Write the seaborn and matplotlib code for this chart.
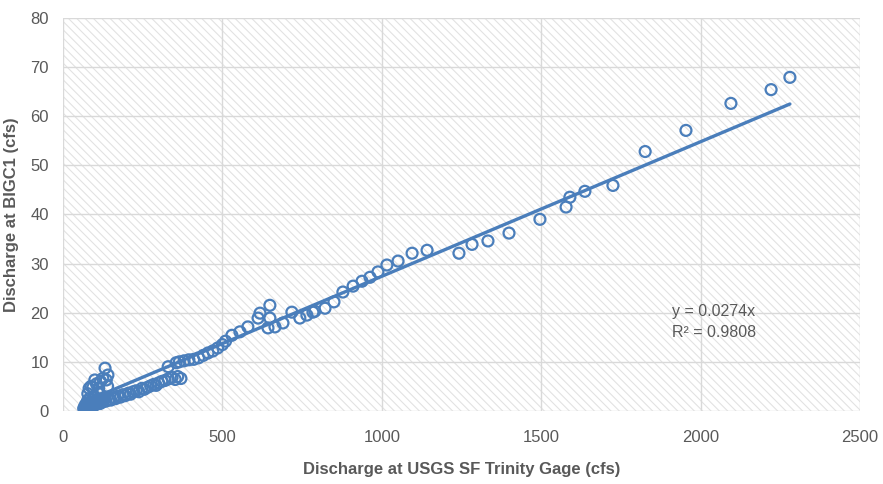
import numpy as np
import pandas as pd
import matplotlib
matplotlib.use("Agg")
import matplotlib.pyplot as plt
from matplotlib.patches import Rectangle
import seaborn as sns

# flow at the USGS gage (cfs) and matching discharge at BIGC1 (cfs)
usgs_cfs = [
    65, 68, 70, 72, 74, 75, 77, 78, 80, 82, 83, 85, 87, 88, 90, 92, 94, 96, 98, 100,
    103, 105, 108, 110, 113, 116, 120, 124, 128,
    78, 82, 88, 94, 100, 105, 112, 118, 125, 132, 136, 141, 140, 110,
    135, 145, 150, 158, 165, 172, 180, 188, 195, 205, 212, 220, 230, 238, 248, 255,
    265, 275, 285, 292, 300, 310, 320, 330, 342, 352, 360, 370,
    330, 355, 365, 380, 395, 410, 425, 440, 455, 470, 485, 500, 510,
    530, 555, 580, 612, 618, 649, 649, 643, 665, 690, 718, 743, 765, 784, 790,
    822, 850, 878, 910, 938, 963, 988, 1016, 1051, 1095, 1142, 1242, 1283, 1333,
    1399, 1496, 1578, 1590, 1637, 1725, 1826, 1954, 2095, 2221, 2280,
]
bigc1_cfs = [
    0.5, 0.8, 1.2, 0.6, 1.5, 0.9, 2.0, 1.1, 0.7, 1.4, 2.5, 1.0, 1.8, 0.8, 1.3, 2.2, 1.0, 1.6, 3.0, 1.2,
    1.9, 1.4, 2.3, 1.6, 2.0, 1.5, 2.4, 1.8, 2.1,
    3.5, 4.6, 5.0, 4.8, 6.3, 5.5, 4.6, 6.0, 6.6, 8.7, 6.3, 7.3, 5.0, 3.6,
    2.0, 2.4, 2.2, 2.7, 2.5, 3.0, 2.8, 3.3, 3.1, 3.6, 3.4, 3.9, 4.1, 3.9, 4.6, 4.4,
    4.8, 5.1, 5.4, 5.2, 5.7, 6.0, 6.2, 6.5, 6.8, 6.4, 7.0, 6.6,
    9.0, 9.8, 10.0, 10.2, 10.4, 10.5, 10.8, 11.3, 11.8, 12.2, 12.8, 13.5, 14.2,
    15.4, 16.1, 17.1, 18.9, 19.9, 21.5, 18.9, 16.9, 17.1, 17.9, 20.1, 18.9, 19.5, 20.1, 20.3,
    20.9, 22.2, 24.2, 25.4, 26.4, 27.2, 28.3, 29.7, 30.5, 32.1, 32.7, 32.1, 33.9, 34.6,
    36.2, 39.0, 41.5, 43.5, 44.7, 45.9, 52.8, 57.1, 62.6, 65.4, 67.9,
]

slope = 0.0274
r2 = 0.9808

df = pd.DataFrame({"usgs": usgs_cfs, "bigc1": bigc1_cfs})
trend = pd.DataFrame({"usgs": [min(usgs_cfs), max(usgs_cfs)]})
trend["fit"] = slope * trend["usgs"]

sns.set_style("white")
plt.rcParams["font.family"] = ["Liberation Sans Narrow", "Liberation Sans", "DejaVu Sans"]
plt.rcParams["hatch.linewidth"] = 0.8

blue = "#4a7ebb"
grey = "#595959"

fig = plt.figure(figsize=(8.83, 4.84), dpi=100)
ax = fig.add_axes([0.0713, 0.151, 0.9027, 0.812])

# excel-style light diagonal pattern fill behind the plot
ax.add_patch(Rectangle((0, 0), 1, 1, transform=ax.transAxes, facecolor="white",
                       edgecolor="#e2e2e2", hatch="\\\\\\\\", linewidth=0, zorder=-2))

sns.scatterplot(data=df, x="usgs", y="bigc1", ax=ax, marker="o", s=62,
                facecolor="none", edgecolor=blue, linewidth=1.6, zorder=3)
sns.lineplot(data=trend, x="usgs", y="fit", ax=ax, color=blue, linewidth=2.4, zorder=4)

ax.set_xlim(0, 2500)
ax.set_ylim(0, 80)
ax.set_xticks(range(0, 2501, 500))
ax.set_yticks(range(0, 81, 10))
ax.grid(True, color="#d9d9d9", linewidth=1.0, zorder=0)
ax.set_axisbelow(True)
for s in ax.spines.values():
    s.set_visible(False)
ax.tick_params(length=0, labelsize=12, labelcolor=grey)
ax.tick_params(axis="x", pad=14)
ax.tick_params(axis="y", pad=10)

ax.set_xlabel("Discharge at USGS SF Trinity Gage (cfs)", fontsize=12, fontweight="bold",
              color=grey, labelpad=12)
ax.set_ylabel("Discharge at BIGC1 (cfs)", fontsize=12, fontweight="bold", color=grey,
              labelpad=8)

ax.text(1910, 18.1, f"y = {slope}x\nR\u00b2 = {r2}", fontsize=11.5, color=grey,
        va="center", ha="left", linespacing=1.5, zorder=5)

fig.savefig("out.png", dpi=100)
